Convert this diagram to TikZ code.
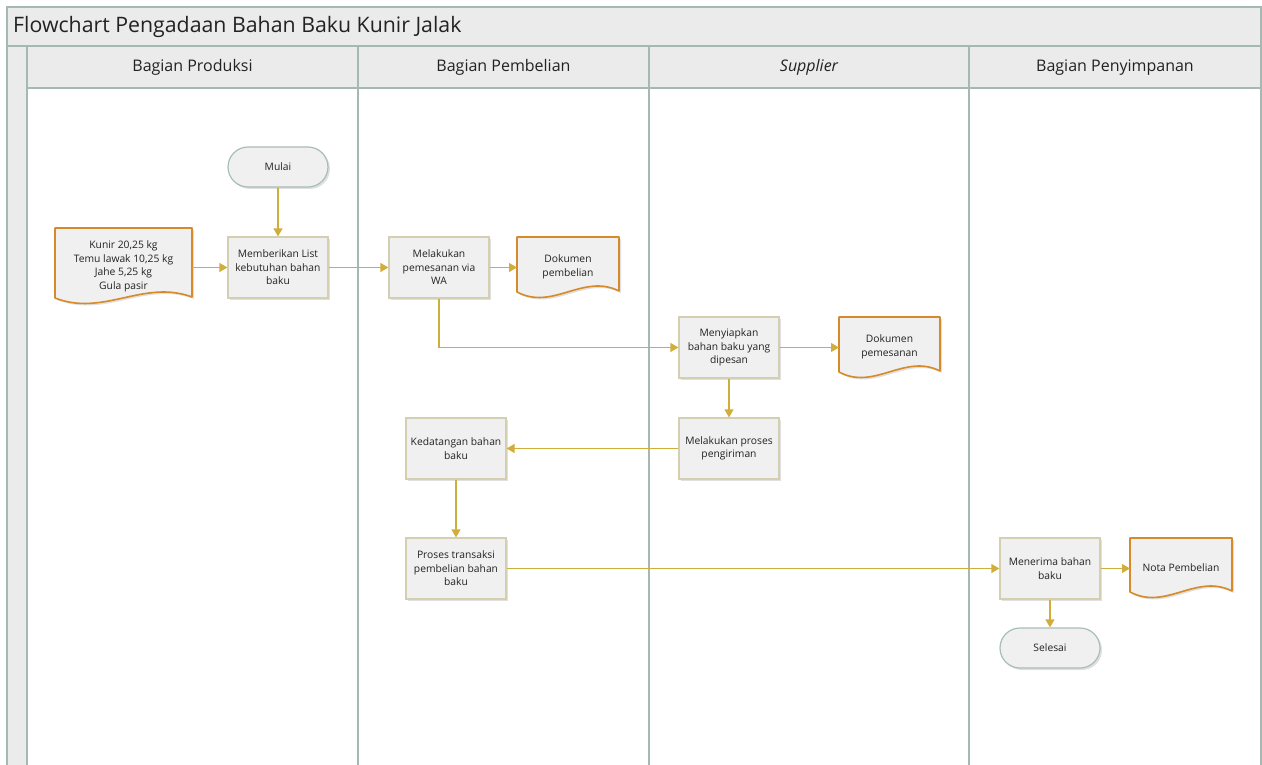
\documentclass[tikz,border=0pt]{standalone}
\usepackage{fontspec}
\setmainfont{Open Sans}
\usetikzlibrary{arrows.meta,calc,shadows}
\definecolor{lanegray}{HTML}{EBEBEB}
\definecolor{laneline}{HTML}{A4B9B1}
\definecolor{flow}{HTML}{D1AE3C}
\definecolor{docor}{HTML}{D68A2A}
\definecolor{boxline}{HTML}{D5CFB2}
\definecolor{boxfill}{HTML}{F0F0F0}
\definecolor{termline}{HTML}{A8BDB7}
\definecolor{txt}{HTML}{222222}
\newcommand\docshape[2]{%
  \fill[black!12] ($(#1.north west)+(2,2)$) -- ($(#1.north east)+(2,2)$) -- ($(#1.south east)+(2,2)$)
    .. controls ($(#1.south)+(#2+2,-16)$) and ($(#1.south)+(-#2+2,22)$) .. ($(#1.south west)+(2,3)$) -- cycle;
  \draw[docor, line width=1.6pt, fill=boxfill, line join=round] (#1.north west) -- (#1.north east) -- (#1.south east)
    .. controls ($(#1.south)+(#2,-18)$) and ($(#1.south)+(-#2,20)$) .. ($(#1.south west)+(0,1)$) -- cycle;
}
\begin{document}
\begin{tikzpicture}[x=1pt,y=-1pt,
  every node/.style={text=txt},
  nodefont/.style={font=\fontsize{10.3}{13.5}\selectfont},
  proc/.style={nodefont, draw=boxline, line width=1.2pt, fill=boxfill, minimum width=100pt, minimum height=61pt, align=center, inner sep=1pt,
    drop shadow={shadow xshift=2pt, shadow yshift=-2pt, fill=black, opacity=0.12}},
  term/.style={nodefont, draw=termline, line width=1.2pt, fill=boxfill, rounded corners=20pt, minimum width=100pt, minimum height=40pt,
    drop shadow={shadow xshift=2pt, shadow yshift=-2pt, fill=black, opacity=0.12}},
  docbox/.style={inner sep=0pt, outer sep=0pt},
  doctext/.style={nodefont, align=center, inner sep=0pt},
  flowline/.style={draw=flow, line width=1.2pt, -{Triangle[length=8pt,width=9pt]}},
  lane/.style={draw=laneline, line width=1.5pt},
  header/.style={font=\fontsize{16}{19}\selectfont}
]
\useasboundingbox (0,0) rectangle (1262,765);
% lanes
\fill[lanegray] (7,7) rectangle (1261,46);
\fill[lanegray] (27,46) rectangle (1261,88);
\fill[lanegray] (7,46) rectangle (27,765);
\draw[lane] (7,765) -- (7,7) -- (1261,7) -- (1261,765);
\draw[lane] (7,46) -- (1261,46);
\draw[lane] (27,88) -- (1261,88);
\foreach \xx in {27,358,649,969} {\draw[lane] (\xx,46) -- (\xx,765);}
\node[anchor=west, font=\fontsize{21.3}{25}\selectfont, inner sep=0pt] (title) at (13,26.5) {Flowchart Pengadaan Bahan Baku Kunir Jalak};
\node[header] (h1) at (192.5,67.5) {Bagian Produksi};
\node[header] (h2) at (503.5,67.5) {Bagian Pembelian};
\node[header] (h3) at (809,67.5) {\itshape Supplier};
\node[header] (h4) at (1115,67.5) {Bagian Penyimpanan};
% nodes
\node[term] (mulai) at (278,167) {Mulai};
\node[proc] (p1) at (278,267.5) {Memberikan List\\kebutuhan bahan\\baku};
\node[proc] (p2) at (439,267.5) {Melakukan\\pemesanan via\\WA};
\node[proc] (p3) at (729,347.5) {Menyiapkan\\bahan baku yang\\dipesan};
\node[proc] (p4) at (729,448.5) {Melakukan proses\\pengiriman};
\node[proc] (p5) at (456,448.5) {Kedatangan bahan\\baku};
\node[proc] (p6) at (456,568.5) {Proses transaksi\\pembelian bahan\\baku};
\node[proc] (p7) at (1050,568.5) {Menerima bahan\\baku};
\node[term] (selesai) at (1050,648) {Selesai};
% documents
\node[docbox, minimum width=137pt, minimum height=69pt] (in) at (123.5,262.5) {};
\docshape{in}{20}
\node[doctext] (intext) at ($(in.center)+(0,4)$) {Kunir 20,25 kg\\Temu lawak 10,25 kg\\Jahe 5,25 kg\\Gula pasir};
\node[docbox, minimum width=102pt, minimum height=54pt] (d1) at (568,264) {};
\docshape{d1}{15}
\node[doctext] (d1text) at ($(d1.center)+(0,3)$) {Dokumen\\pembelian};
\node[docbox, minimum width=101pt, minimum height=54pt] (d2) at (889.5,344) {};
\docshape{d2}{15}
\node[doctext] (d2text) at ($(d2.center)+(0,3)$) {Dokumen\\pemesanan};
\node[docbox, minimum width=102pt, minimum height=53pt] (d3) at (1181,564.5) {};
\docshape{d3}{15}
\node[doctext] (d3text) at ($(d3.center)+(0,3)$) {Nota Pembelian};
% connectors
\draw[flowline] (mulai) -- (p1);
\draw[flowline] (in.east |- p1) -- (p1.west);
\draw[flowline] (p1) -- (p2);
\draw[flowline] (p2.east) -- (p2.east -| d1.west);
\draw[flowline] (p2.south) |- (p3.west);
\draw[flowline] (p3.east) -- (p3.east -| d2.west);
\draw[flowline] (p3) -- (p4);
\draw[flowline] (p4) -- (p5);
\draw[flowline] (p5) -- (p6);
\draw[flowline] (p6) -- (p7);
\draw[flowline] (p7.east) -- (p7.east -| d3.west);
\draw[flowline] (p7) -- (selesai);
\end{tikzpicture}
\end{document}
